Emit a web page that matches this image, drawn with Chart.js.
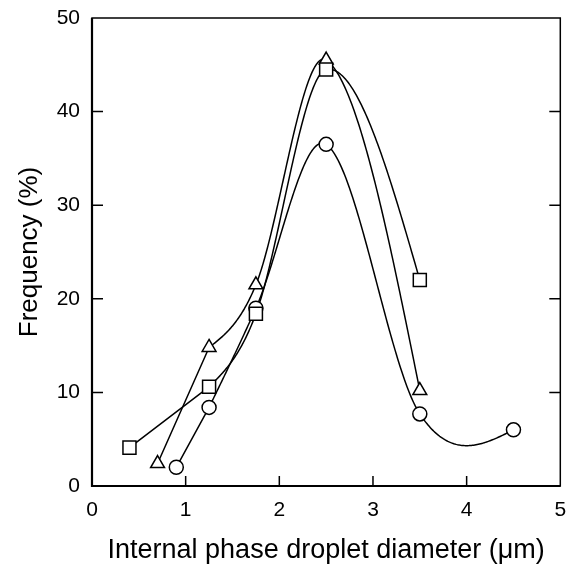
<!DOCTYPE html>
<html>
<head>
<meta charset="utf-8">
<script src="https://cdn.jsdelivr.net/npm/chart.js@4.4.1/dist/chart.umd.min.js"></script>
<style>
  html, body { margin: 0; padding: 0; background: #fff; }
  #wrap { width: 568px; height: 571px; overflow: hidden; }
</style>
</head>
<body>
<div id="wrap"><canvas id="chart" width="571" height="571"></canvas></div>
<script>
// values
const squareX = [0.4, 1.25, 1.75, 2.5, 3.5];
const squareY = [4.1, 10.6, 18.4, 44.5, 22.0];
const triangleX = [0.7, 1.25, 1.75, 2.5, 3.5];
const triangleY = [2.4, 14.8, 21.5, 45.5, 10.2];
const circleX = [0.9, 1.25, 1.75, 2.5, 3.5, 4.5];
const circleY = [2.0, 8.4, 19.0, 36.5, 7.7, 6.0];
const xTicks = [0, 1, 2, 3, 4, 5];
const yTicks = [0, 10, 20, 30, 40, 50];

const font = 'Liberation Sans, Arial, Helvetica, sans-serif';

function pts(xs, ys) {
  return xs.map((x, i) => ({ x: x, y: ys[i] }));
}

// cubic Hermite curve y(x): centred slopes inside, natural ends
function smooth(xs, ys) {
  const n = xs.length;
  const d = [], m = [];
  for (let i = 0; i < n - 1; i++) d.push((ys[i + 1] - ys[i]) / (xs[i + 1] - xs[i]));
  for (let i = 1; i < n - 1; i++) m[i] = (ys[i + 1] - ys[i - 1]) / (xs[i + 1] - xs[i - 1]);
  m[0] = (3 * d[0] - m[1]) / 2;
  m[n - 1] = (3 * d[n - 2] - m[n - 2]) / 2;
  return (i, x) => {
    const h = xs[i + 1] - xs[i], t = (x - xs[i]) / h;
    const t2 = t * t, t3 = t2 * t;
    return (2 * t3 - 3 * t2 + 1) * ys[i] + (t3 - 2 * t2 + t) * h * m[i] +
      (-2 * t3 + 3 * t2) * ys[i + 1] + (t3 - t2) * h * m[i + 1];
  };
}

// the line of each series: straight first segment, then the smooth curve
const curvePlugin = {
  id: 'curves',
  beforeDatasetsDraw(chart) {
    const { ctx, scales: { x, y } } = chart;
    ctx.save();
    ctx.strokeStyle = '#000';
    ctx.lineWidth = 1.5;
    ctx.lineJoin = 'round';
    chart.data.datasets.forEach(ds => {
      const xs = ds.data.map(p => p.x), ys = ds.data.map(p => p.y);
      const sx = xs.slice(1), sy = ys.slice(1);
      const f = smooth(sx, sy);
      ctx.beginPath();
      ctx.moveTo(x.getPixelForValue(xs[0]), y.getPixelForValue(ys[0]));
      ctx.lineTo(x.getPixelForValue(xs[1]), y.getPixelForValue(ys[1]));
      for (let i = 0; i < sx.length - 1; i++) {
        for (let s = 1; s <= 80; s++) {
          const v = sx[i] + (sx[i + 1] - sx[i]) * s / 80;
          ctx.lineTo(x.getPixelForValue(v), y.getPixelForValue(f(i, v)));
        }
      }
      ctx.stroke();
    });
    ctx.restore();
  }
};

// frame + inward ticks
const framePlugin = {
  id: 'frame',
  afterDraw(chart) {
    const { ctx, chartArea: a, scales } = chart;
    ctx.save();
    ctx.strokeStyle = '#000';
    ctx.lineWidth = 1.5;
    ctx.strokeRect(a.left, a.top, a.right - a.left, a.bottom - a.top);
    ctx.lineWidth = 2.2;
    ctx.beginPath();
    ctx.moveTo(a.left, a.top);
    ctx.lineTo(a.left, a.bottom);
    ctx.lineTo(a.right, a.bottom);
    ctx.stroke();
    ctx.lineWidth = 1.5;
    ctx.beginPath();
    xTicks.forEach(v => {
      const px = scales.x.getPixelForValue(v);
      if (v === xTicks[0] || v === xTicks[xTicks.length - 1]) return;
      ctx.moveTo(px, a.bottom);
      ctx.lineTo(px, a.bottom - 10);
    });
    yTicks.forEach(v => {
      const py = scales.y.getPixelForValue(v);
      if (v === yTicks[0] || v === yTicks[yTicks.length - 1]) return;
      ctx.moveTo(a.left, py);
      ctx.lineTo(a.left + 11, py);
      ctx.moveTo(a.right, py);
      ctx.lineTo(a.right - 11, py);
    });
    ctx.stroke();
    ctx.restore();
  }
};

function series(xs, ys, style, radius) {
  return {
    data: pts(xs, ys),
    showLine: false,
    pointStyle: style,
    pointRadius: radius,
    pointBackgroundColor: '#fff',
    pointBorderColor: '#000',
    pointBorderWidth: 1.5
  };
}

new Chart(document.getElementById('chart'), {
  type: 'scatter',
  data: {
    datasets: [
      series(squareX, squareY, 'rect', 9.2),
      series(triangleX, triangleY, 'triangle', 8),
      series(circleX, circleY, 'circle', 7)
    ]
  },
  options: {
    responsive: false,
    animation: false,
    layout: { padding: { top: 18, right: 0, left: 10, bottom: 0 } },
    plugins: { legend: { display: false }, tooltip: { enabled: false } },
    scales: {
      x: {
        type: 'linear',
        min: 0, max: 5,
        afterBuildTicks: s => { s.ticks = xTicks.map(v => ({ value: v })); },
        afterFit: s => { s.height = 85; s.paddingRight = 0; s.paddingLeft = 0; },
        grid: { display: false, drawTicks: false },
        border: { display: false },
        ticks: { color: '#000', padding: 12, font: { family: font, size: 21 } },
        title: { display: true, text: 'Internal phase droplet diameter (\u03bcm)', color: '#000',
                 font: { family: font, size: 27 }, padding: { top: 5 } }
      },
      y: {
        min: 0, max: 50,
        afterBuildTicks: s => { s.ticks = yTicks.map(v => ({ value: v })); },
        afterFit: s => { s.width = 82; s.paddingTop = 0; s.paddingBottom = 0; },
        grid: { display: false, drawTicks: false },
        border: { display: false },
        ticks: { color: '#000', padding: 12, font: { family: font, size: 21 } },
        title: { display: true, text: 'Frequency (%)', color: '#000',
                 font: { family: font, size: 26 }, padding: { bottom: 4 } }
      }
    }
  },
  plugins: [curvePlugin, framePlugin]
});
</script>
</body>
</html>
